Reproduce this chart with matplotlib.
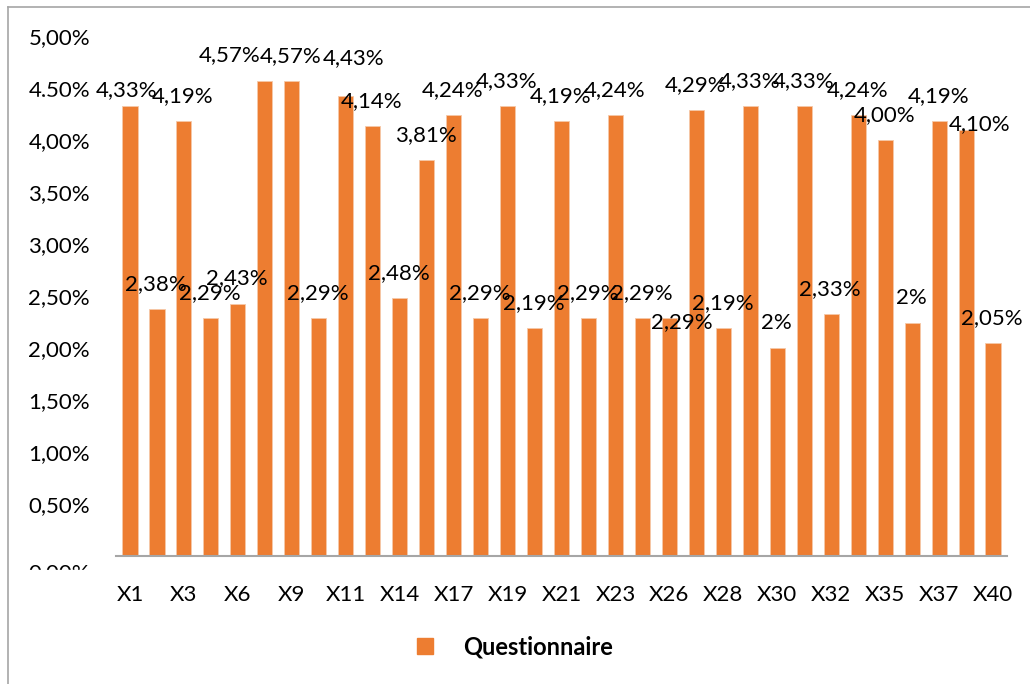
import matplotlib.pyplot as plt
from matplotlib.patches import Patch, Rectangle
from matplotlib.transforms import ScaledTranslation
import numpy as np

plt.rcParams['font.family'] = ['Lato', 'DejaVu Sans']

# %%
categories = ["X1", "X2", "X3", "X5", "X6", "X7", "X9", "X10", "X11", "X13",
              "X14", "X16", "X17", "X18", "X19", "X20", "X21", "X22", "X23", "X25",
              "X26", "X27", "X28", "X29", "X30", "X31", "X32", "X34", "X35", "X36",
              "X37", "X39", "X40"]
values = [4.33, 2.38, 4.19, 2.29, 2.43, 4.57, 4.57, 2.29, 4.43, 4.14,
          2.48, 3.81, 4.24, 2.29, 4.33, 2.19, 4.19, 2.29, 4.24, 2.29,
          2.29, 4.29, 2.19, 4.33, 2.00, 4.33, 2.33, 4.24, 4.00, 2.24,
          4.19, 4.10, 2.05]
valueLabels = ["4,33%", "2,38%", "4,19%", "2,29%", "2,43%", "4,57%", "4,57%", "2,29%", "4,43%", "4,14%",
               "2,48%", "3,81%", "4,24%", "2,29%", "4,33%", "2,19%", "4,19%", "2,29%", "4,24%", "2,29%",
               "2,29%", "4,29%", "2,19%", "4,33%", "2%", "4,33%", "2,33%", "4,24%", "4,00%", "2%",
               "4,19%", "4,10%", "2,05%"]
yTicks = [0, 0.5, 1, 1.5, 2, 2.5, 3, 3.5, 4, 4.5, 5]
seriesName = "Questionnaire"

# label nudges (pixels) where the labels were moved by hand
labelShift = {0: (-3, 16), 5: (-35, 26), 8: (8, 38), 20: (12, -4), 31: (14, 6)}

orange = "#ED7D31"

# %%
fig = plt.figure(figsize=(10.3, 6.84), dpi=100)
ax = fig.add_axes([0.1131, 0.1871, 0.8641, 0.7595])

x = np.arange(len(categories))
ax.bar(x, values, width=0.56, color=orange, edgecolor="#F6C8A8", linewidth=0.6)

for i, (v, lab) in enumerate(zip(values, valueLabels)):
    dx, dy = labelShift.get(i, (-1, 25))
    ax.annotate(lab, (x[i], v), xytext=(dx, dy), textcoords="offset pixels",
                ha="center", va="center", fontsize=16, color="black")

ax.set_xlim(-0.5, len(categories) - 0.5)
ax.set_ylim(0, 5)
ax.set_yticks(yTicks)
ax.set_yticklabels([f"{t:.2f}%".replace(".", ",") for t in yTicks], fontsize=16)
ax.set_xticks(x[::2])
ax.set_xticklabels(categories[::2], fontsize=16)
ax.tick_params(axis="y", length=0, pad=19)
ax.tick_params(axis="x", length=0, pad=21)

# the 0,00% label sits low in the original
ylabs = ax.get_yticklabels()
ylabs[0].set_transform(ylabs[0].get_transform() + ScaledTranslation(0, -0.15, fig.dpi_scale_trans))

for s in ["top", "right", "left"]:
    ax.spines[s].set_visible(False)
ax.spines["bottom"].set_color("#A6A6A6")
ax.spines["bottom"].set_linewidth(1.5)

fig.legend(handles=[Patch(color=orange, label=seriesName)], loc="center",
           bbox_to_anchor=(0.5, 0.054), frameon=False, handlelength=0.68,
           handleheight=0.68, handletextpad=1.3, prop={"size": 17, "weight": "bold"})

# outer chart frame (bottom and right run off the picture)
fig.add_artist(plt.Line2D([8 / 1030, 8 / 1030], [0, 1 - 7 / 684], transform=fig.transFigure,
                          color="#A6A6A6", linewidth=1.2))
fig.add_artist(plt.Line2D([8 / 1030, 1], [1 - 7 / 684, 1 - 7 / 684], transform=fig.transFigure,
                          color="#A6A6A6", linewidth=1.2))

# parts of two axis labels are hidden in the original
fig.add_artist(Rectangle((20 / 1030, 1 - 108 / 684), 80 / 1030, 11 / 684,
                         transform=fig.transFigure, color="white", zorder=5))
fig.add_artist(Rectangle((20 / 1030, 1 - 584 / 684), 80 / 1030, 14 / 684,
                         transform=fig.transFigure, color="white", zorder=5))

fig.savefig("out.png", dpi=100)
